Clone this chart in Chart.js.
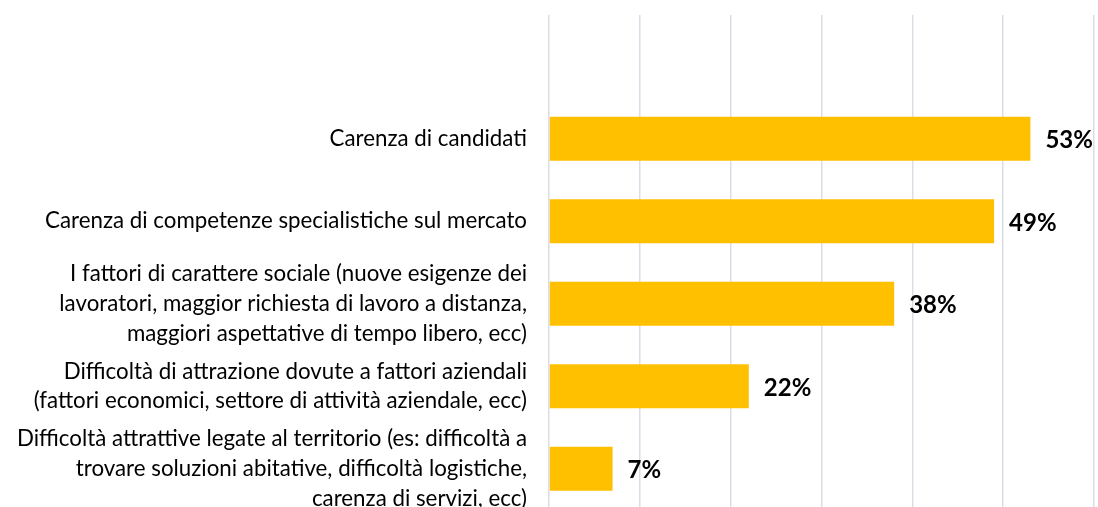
<!DOCTYPE html>
<html lang="it">
<head>
<meta charset="UTF-8">
<script src="https://cdn.jsdelivr.net/npm/chart.js"></script>
<title>Difficoltà di reclutamento</title>
<style>
    html, body { margin: 0; padding: 0; background: #fff; overflow: hidden; }
    #wrap { width: 1098px; height: 510px; }
</style>
</head>
<body>
<div id="wrap"><canvas id="myChart" width="1098" height="510"></canvas></div>
<script>
    // categorie (la prima riga è vuota, come nel grafico originale)
    const categories = [
        '',
        'Carenza di candidati',
        'Carenza di competenze specialistiche sul mercato',
        ['I fattori di carattere sociale (nuove esigenze dei', 'lavoratori, maggior richiesta di lavoro a distanza,', 'maggiori aspettative di tempo libero, ecc)'],
        ['Difficoltà di attrazione dovute a fattori aziendali', '(fattori economici, settore di attività aziendale, ecc)'],
        ['Difficoltà attrattive legate al territorio (es: difficoltà a', 'trovare soluzioni abitative, difficoltà logistiche,', 'carenza di servizi, ecc)']
    ];
    const percentages = [null, 53, 49, 38, 22, 7];
    const xTicks = [0, 10, 20, 30, 40, 50, 60];

    const valueLabels = {
        id: 'valueLabels',
        afterDatasetsDraw(chart) {
            const ctx = chart.ctx;
            const meta = chart.getDatasetMeta(0);
            ctx.save();
            ctx.font = 'bold 24px Lato';
            ctx.fillStyle = '#000';
            ctx.textAlign = 'left';
            ctx.textBaseline = 'middle';
            meta.data.forEach((bar, i) => {
                const v = percentages[i];
                if (v === null) return;
                ctx.fillText(v + '%', bar.x + 15, bar.y + 2);
            });
            ctx.restore();
        }
    };

    const myChart = new Chart(document.getElementById('myChart'), {
        type: 'bar',
        data: {
            labels: categories,
            datasets: [{
                data: percentages,
                backgroundColor: '#FFC000',
                barPercentage: 0.533,
                categoryPercentage: 1
            }]
        },
        options: {
            indexAxis: 'y',
            responsive: false,
            animation: false,
            layout: { padding: { top: 15, right: 4, bottom: 0, left: 0 } },
            plugins: {
                legend: { display: false },
                tooltip: { enabled: false }
            },
            scales: {
                x: {
                    min: 0,
                    max: 60,
                    afterBuildTicks: (s) => { s.ticks = xTicks.map(v => ({ value: v })); },
                    ticks: { display: false },
                    border: { display: false },
                    grid: { color: '#d9dee6', lineWidth: 1.5, drawTicks: false }
                },
                y: {
                    afterFit: (s) => {
                        s.width = 549;
                        s.paddingTop = 0;
                        s.paddingBottom = 0;
                    },
                    grid: { display: false, drawTicks: false },
                    border: { display: false },
                    ticks: {
                        autoSkip: false,
                        color: '#000',
                        padding: 22,
                        font: { family: 'Lato', size: 22.3, lineHeight: 1.34 }
                    }
                }
            }
        },
        plugins: [valueLabels]
    });
</script>
</body>
</html>
